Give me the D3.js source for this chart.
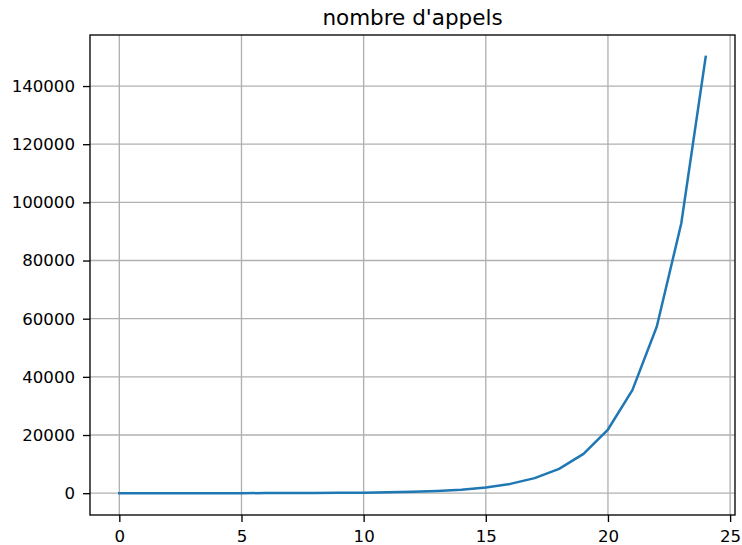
<!DOCTYPE html>
<html>
<head>
<meta charset="utf-8">
<script src="https://cdn.jsdelivr.net/npm/d3@7"></script>
<style>
  html, body { margin: 0; padding: 0; background: #fff; }
  svg { display: block; }
  text { font-family: "DejaVu Sans", sans-serif; fill: #000; }
</style>
</head>
<body>
<svg id="chart" width="742" height="545"></svg>
<script>
// Data: n and number of calls
const nValues = [0,1,2,3,4,5,6,7,8,9,10,11,12,13,14,15,16,17,18,19,20,21,22,23,24];
const calls = [1,1,3,5,9,15,25,41,67,109,177,287,465,753,1219,1973,3193,5167,8361,13529,21891,35421,57313,92735,150049];
const xTicks = [0,5,10,15,20,25];
const yTicks = [0,20000,40000,60000,80000,100000,120000,140000];
const title = "nombre d'appels";

const W = 742, H = 545;
const margin = {left: 90, right: 7, top: 35, bottom: 30};
const pw = W - margin.left - margin.right;
const ph = H - margin.top - margin.bottom;

const svg = d3.select("#chart");
const g = svg.append("g").attr("transform", `translate(${margin.left},${margin.top})`);

const xMin = d3.min(nValues), xMax = d3.max(nValues);
const xPad = (xMax - xMin) * 0.05;
const yMin = d3.min(calls), yMax = d3.max(calls);
const yPad = (yMax - yMin) * 0.05;

const x = d3.scaleLinear().domain([xMin - xPad, xMax + xPad]).range([0, pw]);
const y = d3.scaleLinear().domain([yMin - yPad, yMax + yPad]).range([ph, 0]);

// grid
g.append("g").selectAll("line").data(xTicks.filter(t => x(t) <= pw)).join("line")
  .attr("x1", d => x(d)).attr("x2", d => x(d)).attr("y1", 0).attr("y2", ph)
  .attr("stroke", "#b0b0b0").attr("stroke-width", 1.33);
g.append("g").selectAll("line").data(yTicks).join("line")
  .attr("y1", d => y(d)).attr("y2", d => y(d)).attr("x1", 0).attr("x2", pw)
  .attr("stroke", "#b0b0b0").attr("stroke-width", 1.33);

// line
const line = d3.line().x((d, i) => x(nValues[i])).y(d => y(d));
g.append("path").datum(calls).attr("d", line)
  .attr("fill", "none").attr("stroke", "#1f77b4").attr("stroke-width", 2.5)
  .attr("stroke-linejoin", "round").attr("stroke-linecap", "square");

// axes
const xAxis = d3.axisBottom(x).tickValues(xTicks).tickSize(7).tickPadding(8).tickFormat(d3.format("d"));
const yAxis = d3.axisLeft(y).tickValues(yTicks).tickSize(7).tickPadding(8).tickFormat(d3.format("d"));

const gx = g.append("g").attr("transform", `translate(0,${ph})`).call(xAxis);
const gy = g.append("g").call(yAxis);
[gx, gy].forEach(a => {
  a.select(".domain").remove();
  a.selectAll(".tick line").attr("stroke", "#000").attr("stroke-width", 1.33);
  a.selectAll(".tick text").attr("font-size", "16.6px").attr("font-family", "DejaVu Sans").attr("fill", "#000");
});

// frame
g.append("rect").attr("x", 0).attr("y", 0).attr("width", pw).attr("height", ph)
  .attr("fill", "none").attr("stroke", "#000").attr("stroke-width", 1.33);

// title
svg.append("text").attr("x", margin.left + pw / 2).attr("y", margin.top - 10)
  .attr("text-anchor", "middle").attr("font-size", "21.5px").text(title);
</script>
</body>
</html>
